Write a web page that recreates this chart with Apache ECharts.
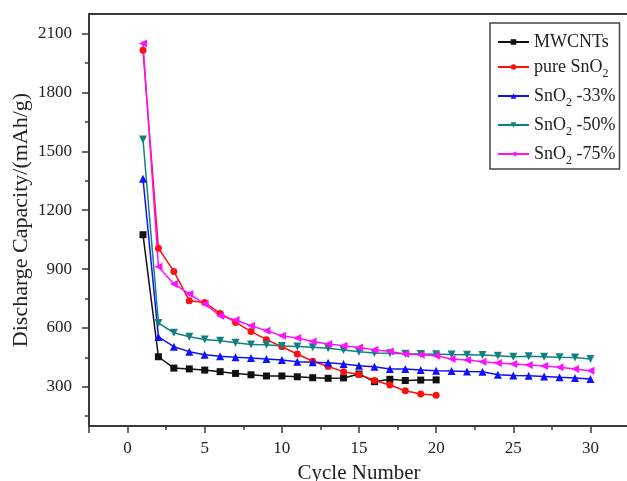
<!DOCTYPE html>
<html>
<head>
<meta charset="utf-8">
<script src="https://cdn.jsdelivr.net/npm/echarts@6/dist/echarts.min.js"></script>
<style>
html,body{margin:0;padding:0;background:#fff;}
#chart{width:627px;height:481px;}
</style>
</head>
<body>
<div id="chart"></div>
<script>
// ---- data ----
var cycles = [1,2,3,4,5,6,7,8,9,10,11,12,13,14,15,16,17,18,19,20,21,22,23,24,25,26,27,28,29,30];
var seriesNames = ['MWCNTs', 'pure SnO2', 'SnO2-33%', 'SnO2-50%', 'SnO2-75%'];
var mwcnts = [1075,453,395,391,385,377,368,361,355,355,351,346,343,345,365,326,338,332,334,335];
var pureSnO2 = [2015,1006,888,739,729,674,628,582,540,504,467,430,403,377,363,332,309,280,263,257];
var snO2_33 = [1360,554,504,479,463,456,450,446,441,437,428,425,422,416,407,402,391,390,386,381,380,378,377,361,358,356,352,348,345,340];
var snO2_50 = [1560,625,575,555,541,535,524,516,514,508,505,501,496,487,478,472,471,468,467,466,464,463,462,458,453,456,453,450,449,442];
var snO2_75 = [2050,912,824,773,722,662,640,611,586,560,548,531,518,509,500,489,480,467,463,458,441,436,428,421,416,411,406,399,391,382];
var xMajorTicks = [-2.5,0,5,10,15,20,25,30];
var xTickLabels = [0,5,10,15,20,25,30];
var xMinorTicks = [2.5,7.5,12.5,17.5,22.5,27.5,32.5];
var yTickLabels = [300,600,900,1200,1500,1800,2100];
var yMinorTicks = [150,450,750,1050,1350,1650,1950];

function pairs(vals){ return vals.map(function(v,i){ return [cycles[i], v]; }); }

var SERIF = '"Liberation Serif","Times New Roman",serif';
var AXC = '#3a3a3a';

var legendRich = {
  'MWCNTs': '{t|MWCNTs}',
  'pure SnO2': '{t|pure SnO}{s|2}',
  'SnO2-33%': '{t|SnO}{s|2}{t| -33%}',
  'SnO2-50%': '{t|SnO}{s|2}{t| -50%}',
  'SnO2-75%': '{t|SnO}{s|2}{t| -75%}'
};

var chart = echarts.init(document.getElementById('chart'), null, {renderer:'canvas'});

function lineSeries(name, vals, color, symbol, rot, size){
  return {
    name: name, type: 'line', data: pairs(vals),
    symbol: symbol, symbolRotate: rot, symbolSize: size,
    lineStyle: {color: color, width: 1.5},
    itemStyle: {color: color},
    animation: false, z: 3
  };
}

var option = {
  backgroundColor: '#fff',
  animation: false,
  grid: {left: 89, top: 14, width: 540, bottom: 55, outerBoundsMode: 'none', containLabel: false, show: true, borderColor: AXC, borderWidth: 2, backgroundColor: 'transparent'},
  legend: {
    orient: 'vertical', left: 490, top: 23,
    padding: [10, 4, 2, 7],
    itemWidth: 31, itemHeight: 7, itemGap: 7,
    borderColor: '#444', borderWidth: 1.5, backgroundColor: '#fff',
    data: seriesNames,
    formatter: function(n){ return legendRich[n]; },
    textStyle: {
      fontFamily: SERIF, fontSize: 18, color: '#222',
      rich: {
        t: {fontFamily: SERIF, fontSize: 18, color: '#222', lineHeight: 20},
        s: {fontFamily: SERIF, fontSize: 12, color: '#222', lineHeight: 12, verticalAlign: 'bottom', padding: [0,0,-3,0]}
      }
    }
  },
  xAxis: [{
    type: 'value', min: -2.5, max: 32.5, position: 'bottom',
    name: 'Cycle Number', nameLocation: 'middle', nameGap: 37, nameMoveOverlap: false,
    nameTextStyle: {fontFamily: SERIF, fontSize: 21, color: '#222'},
    axisLine: {show: true, onZero: false, lineStyle: {color: AXC, width: 2}},
    axisTick: {show: true, customValues: xMajorTicks, length: 7, inside: false, lineStyle: {color: AXC, width: 1.5}},
    axisLabel: {customValues: xTickLabels, margin: 14, fontFamily: SERIF, fontSize: 17, color: '#222', formatter: function(v){ return String(v); }},
    splitLine: {show: false}
  }, {
    type: 'value', min: -2.5, max: 32.5, position: 'bottom',
    axisLine: {show: false, onZero: false},
    axisTick: {show: true, customValues: xMinorTicks, length: 4, lineStyle: {color: AXC, width: 1.5}},
    axisLabel: {show: false},
    splitLine: {show: false}
  }],
  yAxis: [{
    type: 'value', min: 100, max: 2200, position: 'left',
    name: 'Discharge Capacity/(mAh/g)', nameLocation: 'middle', nameGap: 57, nameMoveOverlap: false,
    nameTextStyle: {fontFamily: SERIF, fontSize: 22, color: '#222'},
    axisLine: {show: true, onZero: false, lineStyle: {color: AXC, width: 2}},
    axisTick: {show: true, customValues: yTickLabels, length: 7, lineStyle: {color: AXC, width: 1.5}},
    axisLabel: {customValues: yTickLabels, margin: 17, fontFamily: SERIF, fontSize: 17, color: '#222', formatter: function(v){ return String(v); }},
    splitLine: {show: false}
  }, {
    type: 'value', min: 100, max: 2200, position: 'left',
    axisLine: {show: false, onZero: false},
    axisTick: {show: true, customValues: yMinorTicks, length: 4, lineStyle: {color: AXC, width: 1.5}},
    axisLabel: {show: false},
    splitLine: {show: false}
  }],
  series: [
    lineSeries(seriesNames[0], mwcnts, '#111111', 'rect', 0, 7),
    lineSeries(seriesNames[1], pureSnO2, '#ff1010', 'circle', 0, 7),
    lineSeries(seriesNames[2], snO2_33, '#1010ff', 'triangle', 0, 8),
    lineSeries(seriesNames[3], snO2_50, '#108080', 'triangle', 180, 8),
    lineSeries(seriesNames[4], snO2_75, '#ff10ff', 'triangle', 90, 8)
  ]
};
chart.setOption(option);
</script>
</body>
</html>
